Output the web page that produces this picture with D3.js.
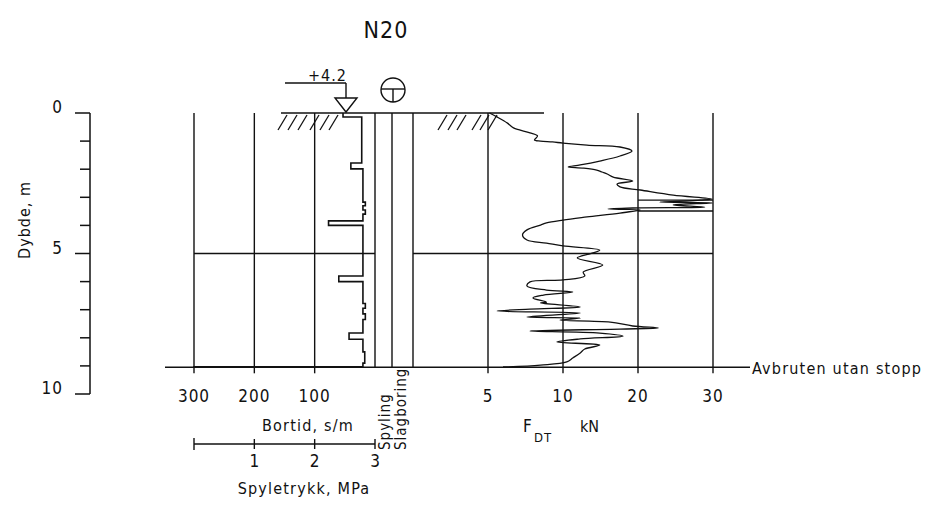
<!DOCTYPE html>
<html>
<head>
<meta charset="utf-8">
<script src="https://cdn.jsdelivr.net/npm/d3@7/dist/d3.min.js"></script>
<style>
  html, body { margin: 0; padding: 0; background: #fff; }
  svg text { font-family: "Liberation Sans Narrow", "DejaVu Sans Condensed", sans-serif; fill: #111; }
</style>
</head>
<body>
<svg id="chart" width="929" height="505"></svg>
<script>
// Sounding N20: depth (m), feed force F_DT (kN), penetration time (s/m)
const title = "N20";
const groundLevel = "+4.2";
const stopDepth = 9.05;
const stopText = "Avbruten utan stopp";

const depthTicks = [0, 5, 10];
const depthMinorTicks = [1, 2, 3, 4, 6, 7, 8, 9];
const bortidTicks = [100, 200, 300];
const fdtTicks = [5, 10, 20, 30];
const spyleTicks = [1, 2, 3];

// feed force curve
const fdtDepths = [0, 0.14, 0.36, 0.53, 0.60, 0.71, 0.82, 0.96, 1.00, 1.03, 1.07, 1.14, 1.21, 1.35, 1.53,
  1.71, 1.85, 1.92, 1.96, 2.03, 2.10, 2.17, 2.28, 2.42, 2.53, 2.63, 2.74, 2.92, 3.06, 3.10, 3.17,
  3.20, 3.27, 3.35, 3.38, 3.42, 3.45, 3.56, 3.70, 3.81, 3.91, 3.99, 4.16, 4.34, 4.52, 4.63, 4.73,
  4.88, 4.98, 5.16, 5.41, 5.66, 5.80, 5.94, 6.01, 6.16, 6.30, 6.37, 6.48, 6.58, 6.73, 6.76, 6.90,
  6.98, 7.05, 7.12, 7.26, 7.30, 7.37, 7.44, 7.58, 7.65, 7.69, 7.76, 7.83, 7.94, 8.04, 8.15, 8.26,
  8.40, 8.54, 8.72, 8.86, 8.97, 9.04];
const fdtForces = [5.1, 5.6, 6.3, 6.7, 7.1, 7.8, 8.3, 8.1, 8.5, 9.3, 10.0, 13.2, 17.6, 19.2, 17.6,
  14.9, 12.3, 10.7, 12.7, 14.5, 15.2, 15.9, 16.7, 19.3, 17.2, 17.6, 20.3, 24.7, 29.9, 28.3, 22.9,
  29.9, 24.7, 28.9, 19.3, 16.0, 20.3, 17.6, 13.2, 10.0, 8.9, 8.5, 7.6, 7.3, 7.6, 8.9, 10.0,
  14.9, 14.0, 11.9, 15.3, 12.7, 12.9, 10.0, 7.8, 7.6, 8.9, 11.3, 8.7, 8.0, 8.9, 8.5, 12.3,
  7.8, 5.6, 12.3, 7.6, 12.3, 9.8, 16.3, 19.3, 22.7, 17.6, 7.8, 14.9, 18.0, 12.3, 9.6, 14.9,
  12.9, 12.3, 11.3, 10.5, 8.5, 6.0];

// penetration time, stepwise: value holds from each start depth to the next
const bortidStarts = [0, 0.14, 1.78, 1.99, 3.17, 3.30, 3.45, 3.60, 3.84, 4.00, 5.80, 6.00, 6.78,
  6.95, 7.15, 7.35, 7.83, 8.05, 8.50, 8.90, 9.03];
const bortidValues = [53, 22, 40, 20, 16, 20, 16, 20, 77, 20, 60, 20, 16, 20, 16, 20, 43, 20, 17, 20, 300];

// depth band where the force exceeds the 20–30 kN range
const overBand = [3.10, 3.49];

const svg = d3.select("#chart");

const y = d3.scaleLinear().domain([0, 10]).range([113, 394]);
const xBortid = d3.scaleLinear().domain([0, 300]).range([375, 194]);
const xSpyle = d3.scaleLinear().domain([0, 3]).range([194, 375]);
const xF = d3.scaleLinear().domain([0, 10, 30]).range([413, 563, 713]);
const colSpyling = 392;
const colEnd = 413;

const ink = "#111";
const g = svg.append("g").attr("stroke", ink).attr("fill", "none").attr("stroke-width", 1.4);

// title
svg.append("text").attr("x", 386).attr("y", 38).attr("text-anchor", "middle")
  .attr("font-size", 23).attr("letter-spacing", 1).text(title);

// depth axis
const yAxis = svg.append("g").attr("transform", "translate(90,0)");
yAxis.append("line").attr("x1", 0).attr("x2", 0).attr("y1", y(0)).attr("y2", y(10))
  .attr("stroke", ink).attr("stroke-width", 1.5);
yAxis.selectAll("line.maj").data(depthTicks).join("line").attr("class", "maj")
  .attr("x1", -15).attr("x2", 0).attr("y1", d => y(d)).attr("y2", d => y(d))
  .attr("stroke", ink).attr("stroke-width", 1.5);
yAxis.selectAll("line.min").data(depthMinorTicks).join("line").attr("class", "min")
  .attr("x1", -10).attr("x2", 0).attr("y1", d => y(d)).attr("y2", d => y(d))
  .attr("stroke", ink).attr("stroke-width", 1.5);
yAxis.selectAll("text").data(depthTicks).join("text")
  .attr("x", -27).attr("y", d => y(d)).attr("text-anchor", "end")
  .attr("font-size", 17).attr("letter-spacing", 1).text(d => d);
svg.append("text").attr("transform", "translate(30,220) rotate(-90)")
  .attr("text-anchor", "middle").attr("font-size", 16).attr("letter-spacing", 1).text("Dybde, m");

// ground surface line and hatching
g.append("line").attr("x1", 281).attr("x2", 544).attr("y1", y(0)).attr("y2", y(0));
const hatchLeft = [278, 288, 298, 310, 320, 329];
const hatchRight = [438, 448, 457, 472, 480, 488];
g.selectAll("line.hatch").data(hatchLeft.concat(hatchRight)).join("line").attr("class", "hatch")
  .attr("x1", d => d).attr("y1", 130).attr("x2", d => d + 9).attr("y2", 115).attr("stroke-width", 1.3);

// ground level marker
g.append("line").attr("x1", 285).attr("x2", 346).attr("y1", 83).attr("y2", 83);
g.append("line").attr("x1", 346).attr("x2", 346).attr("y1", 83).attr("y2", 98);
g.append("path").attr("d", "M335,98 L357,98 L346,112 Z");
svg.append("text").attr("x", 347).attr("y", 81).attr("text-anchor", "end")
  .attr("font-size", 16).attr("letter-spacing", 1).text(groundLevel);

// sounding method symbol
g.append("circle").attr("cx", 393).attr("cy", 90).attr("r", 12);
g.append("line").attr("x1", 381).attr("x2", 405).attr("y1", 89).attr("y2", 89);
g.append("line").attr("x1", 393).attr("x2", 393).attr("y1", 89).attr("y2", 102);

// vertical grid lines
const yBottom = y(stopDepth);
const vLines = bortidTicks.map(xBortid)
  .concat([xBortid(0), colSpyling, colEnd])
  .concat(fdtTicks.map(xF));
g.selectAll("line.v").data(vLines).join("line").attr("class", "v")
  .attr("x1", d => d).attr("x2", d => d).attr("y1", y(0)).attr("y2", yBottom);

// 5 m line
g.append("line").attr("x1", xBortid(300)).attr("x2", xBortid(0)).attr("y1", y(5)).attr("y2", y(5));
g.append("line").attr("x1", xF(0)).attr("x2", xF(30)).attr("y1", y(5)).attr("y2", y(5));

// over-range band marks
g.selectAll("line.band").data(overBand).join("line").attr("class", "band")
  .attr("x1", xF(20)).attr("x2", xF(30)).attr("y1", d => y(d)).attr("y2", d => y(d));

// base line at stop depth with ticks
g.append("line").attr("x1", 165).attr("x2", 750).attr("y1", yBottom).attr("y2", yBottom);
g.selectAll("line.bt").data(bortidTicks.map(xBortid).concat(fdtTicks.map(xF))).join("line").attr("class", "bt")
  .attr("x1", d => d).attr("x2", d => d).attr("y1", yBottom).attr("y2", yBottom + 6);
svg.append("text").attr("x", 752).attr("y", yBottom + 7).attr("font-size", 16)
  .attr("letter-spacing", 1.2).text(stopText);

// tick labels
svg.selectAll("text.bl").data(bortidTicks).join("text").attr("class", "bl")
  .attr("x", d => xBortid(d)).attr("y", 402).attr("text-anchor", "middle")
  .attr("font-size", 17).attr("letter-spacing", 1).text(d => d);
svg.selectAll("text.fl").data(fdtTicks).join("text").attr("class", "fl")
  .attr("x", d => xF(d)).attr("y", 402).attr("text-anchor", "middle")
  .attr("font-size", 17).attr("letter-spacing", 1).text(d => d);
svg.append("text").attr("x", 308).attr("y", 431).attr("text-anchor", "middle")
  .attr("font-size", 16).attr("letter-spacing", 1.2).text("Bortid, s/m");

// column labels
svg.append("text").attr("transform", "translate(390,450) rotate(-90)")
  .attr("font-size", 15).attr("letter-spacing", 1).text("Spyling");
svg.append("text").attr("transform", "translate(406,450) rotate(-90)")
  .attr("font-size", 15).attr("letter-spacing", 1).text("Slagboring");

// force label
svg.append("text").attr("x", 523).attr("y", 432).attr("font-size", 17).text("F");
svg.append("text").attr("x", 534).attr("y", 442).attr("font-size", 13).attr("letter-spacing", 1).text("DT");
svg.append("text").attr("x", 580).attr("y", 432).attr("font-size", 16).text("kN");

// flushing pressure scale
const sy = 444;
g.append("line").attr("x1", xSpyle(0)).attr("x2", xSpyle(3)).attr("y1", sy).attr("y2", sy);
g.append("line").attr("x1", xSpyle(0)).attr("x2", xSpyle(0)).attr("y1", sy - 6).attr("y2", sy + 6);
g.selectAll("line.st").data(spyleTicks).join("line").attr("class", "st")
  .attr("x1", d => xSpyle(d)).attr("x2", d => xSpyle(d)).attr("y1", sy - 5).attr("y2", sy + 5);
svg.selectAll("text.sl").data(spyleTicks).join("text").attr("class", "sl")
  .attr("x", d => xSpyle(d)).attr("y", 467).attr("text-anchor", "middle")
  .attr("font-size", 17).text(d => d);
svg.append("text").attr("x", 304).attr("y", 494).attr("text-anchor", "middle")
  .attr("font-size", 16).attr("letter-spacing", 1.2).text("Spyletrykk, MPa");

// penetration time profile
const bortidPts = [];
bortidStarts.forEach((d0, i) => {
  const d1 = i + 1 < bortidStarts.length ? bortidStarts[i + 1] : stopDepth;
  bortidPts.push([xBortid(bortidValues[i]), y(d0)], [xBortid(bortidValues[i]), y(d1)]);
});
g.append("path").attr("d", d3.line()(bortidPts)).attr("stroke-width", 1.6);

// feed force curve
const fdtPts = fdtDepths.map((d, i) => [xF(fdtForces[i]), y(d)]);
g.append("path").attr("d", d3.line().curve(d3.curveCatmullRom.alpha(0.5))(fdtPts))
  .attr("stroke-width", 1.3).attr("stroke-linejoin", "round");
</script>
</body>
</html>
